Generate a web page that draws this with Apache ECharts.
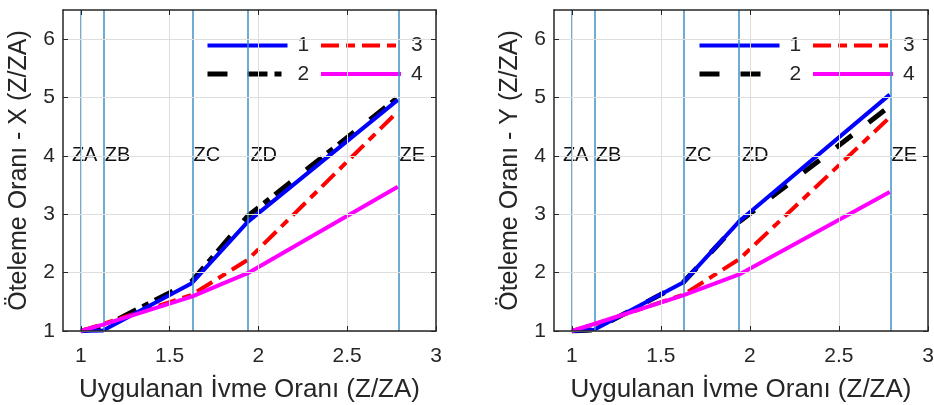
<!DOCTYPE html>
<html>
<head>
<meta charset="utf-8">
<script src="https://cdn.jsdelivr.net/npm/echarts@6/dist/echarts.min.js"></script>
<style>
  html, body { margin: 0; padding: 0; background: #fff; }
  #chart { width: 934px; height: 405px; }
</style>
</head>
<body>
<div id="chart"></div>
<script>
// Tick values
const xTicks = [1, 1.5, 2, 2.5, 3];
const yTicks = [1, 2, 3, 4, 5, 6];

// Zone boundaries (applied acceleration ratio) and their labels
const zones = [1, 1.125, 1.625, 1.94, 2.785];
const zoneNames = ['ZA', 'ZB', 'ZC', 'ZD', 'ZE'];
const zoneTextX = [0.95, 1.135, 1.635, 1.955, 2.795];
const zoneTextY = 4;

// Displacement ratios, X direction
const dispX1 = [1, 1.01, 1.82, 2.87, 4.96];
const dispX2 = [1, 1.07, 1.85, 2.97, 5.0];
const dispX3 = [1, 1.12, 1.62, 2.22, 4.76];
const dispX4 = [1, 1.11, 1.59, 1.99, 3.47];

// Displacement ratios, Y direction
const dispY1 = [1, 1.02, 1.83, 2.88, 5.05];
const dispY2 = [1, 1.02, 1.83, 2.87, 4.85];
const dispY3 = [1, 1.11, 1.62, 2.23, 4.66];
const dispY4 = [1, 1.12, 1.61, 1.97, 3.38];

const seriesNames = ['1', '2', '3', '4'];
const xTitle = 'Uygulanan İvme Oranı (Z/ZA)';
const yTitles = ['Öteleme Oranı - X (Z/ZA)', 'Öteleme Oranı - Y (Z/ZA)'];

const FONT = "'Liberation Sans', Arial, sans-serif";
const TXT = '#262626';
const ZONE_COLOR = '#3f8fc3';
const GRID_COLOR = '#dedede';

const styles = [
  { color: '#0000ff', width: 4, dash: 'solid', z: 4 },
  { color: '#000000', width: 5, dash: null, z: 2 },
  { color: '#ff0000', width: 4, dash: [18, 7, 9, 7], z: 3 },
  { color: '#ff00ff', width: 4, dash: 'solid', z: 5 }
];
const blackDash = [[20, 20, 20, 7, 7, 7], [20, 21]];

const grids = [
  { left: 63, top: 10, width: 373, height: 321, containLabel: false, outerBoundsMode: 'none' },
  { left: 554, top: 10, width: 374, height: 321, containLabel: false, outerBoundsMode: 'none' }
];

const xAxes = [], yAxes = [], series = [], legends = [];

function pairs(xs, ys) { return xs.map((x, i) => [x, ys[i]]); }

[[dispX1, dispX2, dispX3, dispX4], [dispY1, dispY2, dispY3, dispY4]].forEach((sets, g) => {
  const common = {
    gridIndex: g, type: 'value', z: 10,
    axisLine: { show: true, onZero: false, lineStyle: { color: TXT, width: 1.5 } },
    axisTick: { show: true, inside: true, length: 5, lineStyle: { color: TXT, width: 1 } }
  };
  // bottom x axis with labels
  xAxes.push(Object.assign({}, common, {
    min: 0.9, max: 3, position: 'bottom',
    axisTick: Object.assign({}, common.axisTick, { customValues: xTicks }),
    axisLabel: { customValues: xTicks, fontSize: 21, color: TXT, fontFamily: FONT, margin: 15 },
    splitLine: { show: true, lineStyle: { color: GRID_COLOR, width: 1 } },
    name: xTitle, nameLocation: 'middle', nameGap: 46,
    nameTextStyle: { fontSize: 26, color: TXT, fontFamily: FONT }
  }));
  // top x axis (box edge)
  xAxes.push(Object.assign({}, common, {
    min: 0.9, max: 3, position: 'top',
    axisTick: Object.assign({}, common.axisTick, { customValues: xTicks }),
    axisLabel: { show: false }, splitLine: { show: false }
  }));
  // left y axis with labels
  yAxes.push(Object.assign({}, common, {
    min: 1, max: 6.5, position: 'left',
    axisTick: Object.assign({}, common.axisTick, { customValues: yTicks }),
    axisLabel: { customValues: yTicks, fontSize: 21, color: TXT, fontFamily: FONT, margin: 8 },
    splitLine: { show: true, lineStyle: { color: GRID_COLOR, width: 1 } },
    name: yTitles[g], nameLocation: 'middle', nameGap: 31, nameRotate: 90,
    nameTextStyle: { fontSize: 25, color: TXT, fontFamily: FONT }
  }));
  // right y axis (box edge)
  yAxes.push(Object.assign({}, common, {
    min: 1, max: 6.5, position: 'right',
    axisTick: Object.assign({}, common.axisTick, { customValues: yTicks }),
    axisLabel: { show: false }, splitLine: { show: false }
  }));

  const xi = g * 2, yi = g * 2;

  // zone boundary lines and labels
  series.push({
    type: 'scatter', xAxisIndex: xi, yAxisIndex: yi, z: 1,
    symbolSize: 0, silent: true,
    itemStyle: { opacity: 1 },
    data: zoneTextX.map((x, i) => ({ value: [x, zoneTextY], name: zoneNames[i] })),
    label: {
      show: true, position: 'right', distance: 0, formatter: '{b}',
      fontSize: 20, color: '#111111', opacity: 1, fontFamily: FONT
    },
    markLine: {
      silent: true, symbol: 'none', animation: false,
      label: { show: false },
      lineStyle: { color: ZONE_COLOR, width: 1.5, type: 'solid', opacity: 1 },
      data: zones.map(x => ({ xAxis: x }))
    }
  });

  sets.forEach((vals, k) => {
    const st = styles[k];
    const dash = k === 1 ? blackDash[g] : st.dash;
    series.push({
      name: seriesNames[k], type: 'line', xAxisIndex: xi, yAxisIndex: yi,
      z: st.z, symbol: 'none', animation: false,
      lineStyle: { color: st.color, width: st.width, type: dash },
      itemStyle: { color: st.color },
      data: pairs(zones, vals)
    });
  });

  // legend, two columns
  const legLeft = g === 0 ? [205, 319] : [697, 811];
  [[0, 1], [2, 3]].forEach((col, c) => {
    legends.push({
      orient: 'vertical', left: legLeft[c], top: 35, padding: 0,
      itemWidth: 80, itemHeight: 20, itemGap: 7.5,
      selectedMode: false,
      textStyle: { fontSize: 21, color: TXT, fontFamily: FONT, padding: [0, 0, 0, 5] },
      data: col.map(k => ({
        name: seriesNames[k],
        itemStyle: { opacity: 0 },
        lineStyle: {
          color: styles[k].color, width: styles[k].width, opacity: 1,
          type: k === 1 ? blackDash[g] : styles[k].dash
        }
      }))
    });
  });
});

const chart = echarts.init(document.getElementById('chart'), null, { renderer: 'canvas' });
chart.setOption({
  backgroundColor: '#ffffff',
  animation: false,
  textStyle: { fontFamily: FONT },
  grid: grids,
  xAxis: xAxes,
  yAxis: yAxes,
  legend: legends,
  series: series
});
</script>
</body>
</html>
